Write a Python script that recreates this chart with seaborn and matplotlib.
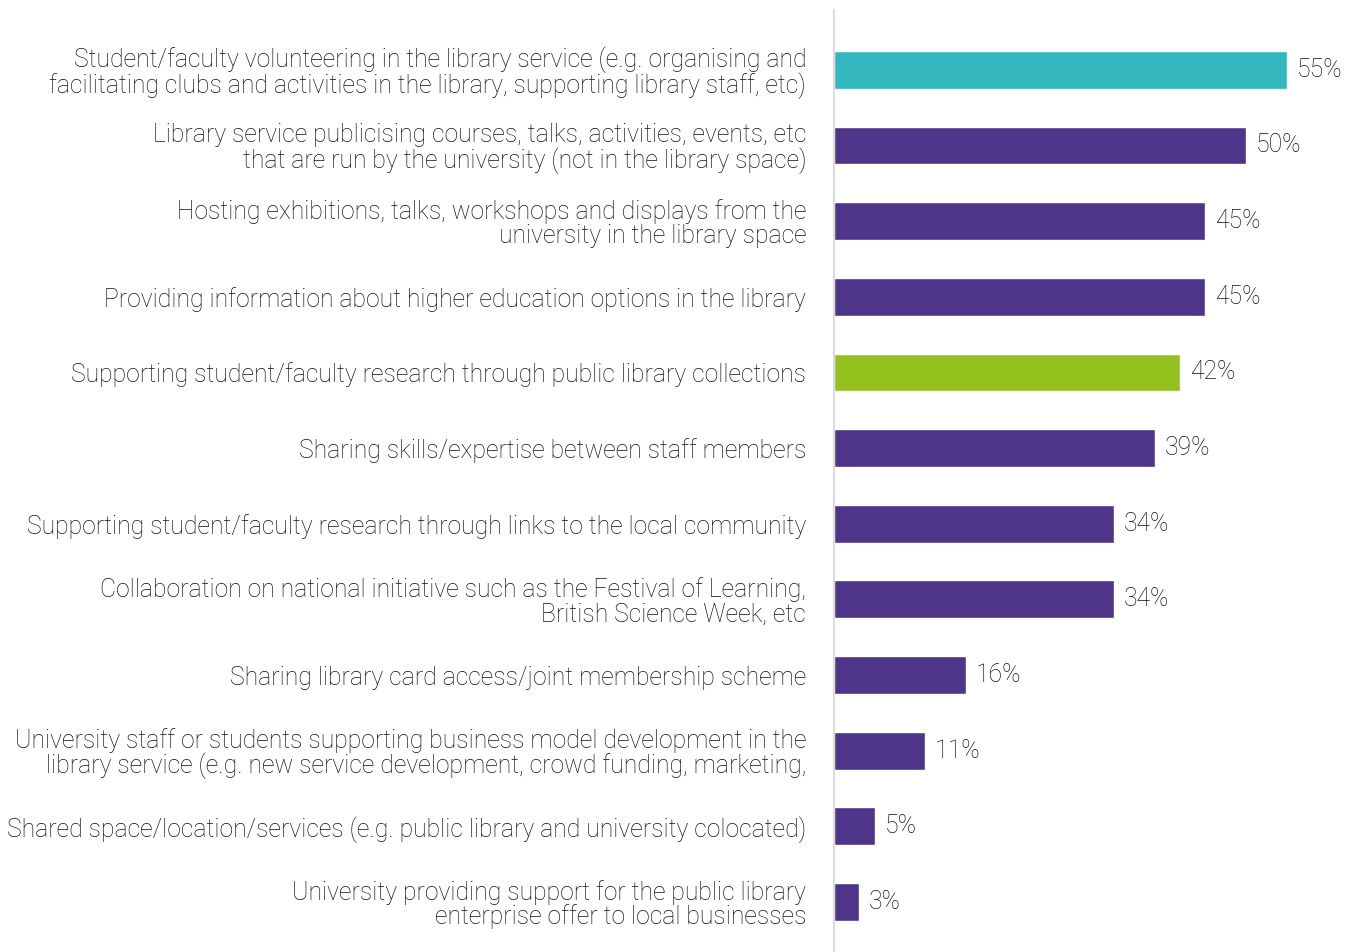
import matplotlib
matplotlib.use("Agg")
import matplotlib.pyplot as plt
import seaborn as sns
import pandas as pd

# Survey results: forms of partnership between public libraries and universities
categories = [
    "Student/faculty volunteering in the library service (e.g. organising and\nfacilitating clubs and activities in the library, supporting library staff, etc)",
    "Library service publicising courses, talks, activities, events, etc\nthat are run by the university (not in the library space)",
    "Hosting exhibitions, talks, workshops and displays from the\nuniversity in the library space",
    "Providing information about higher education options in the library",
    "Supporting student/faculty research through public library collections",
    "Sharing skills/expertise between staff members",
    "Supporting student/faculty research through links to the local community",
    "Collaboration on national initiative such as the Festival of Learning,\nBritish Science Week, etc",
    "Sharing library card access/joint membership scheme",
    "University staff or students supporting business model development in the\nlibrary service (e.g. new service development, crowd funding, marketing,",
    "Shared space/location/services (e.g. public library and university colocated)",
    "University providing support for the public library\nenterprise offer to local businesses",
]
values = [55, 50, 45, 45, 42, 39, 34, 34, 16, 11, 5, 3]

PURPLE = "#4F3589"
TEAL = "#33B6BD"
GREEN = "#95C11F"
bar_colors = [TEAL, PURPLE, PURPLE, PURPLE, GREEN, PURPLE,
              PURPLE, PURPLE, PURPLE, PURPLE, PURPLE, PURPLE]

df = pd.DataFrame({"category": categories, "value": values})

sns.set_theme(style="white")
plt.rcParams["font.family"] = ["Roboto", "DejaVu Sans"]

fig = plt.figure(figsize=(13.59, 9.52), dpi=100)
ax = fig.add_axes([834 / 1359, 0.0, 511 / 1359, 1 - 10 / 952])

sns.barplot(data=df, y="category", x="value", hue="category",
            palette=bar_colors, legend=False, width=0.5,
            saturation=1, ax=ax)

ax.set_xlim(0, 62)
ax.set_ylim(11.66, -0.79)
ax.set_xlabel("")
ax.set_ylabel("")
ax.set_xticks([])

for side in ("top", "right", "bottom"):
    ax.spines[side].set_visible(False)
ax.spines["left"].set_color("#DCDCDC")
ax.spines["left"].set_linewidth(1.5)

ax.tick_params(axis="y", length=0, pad=20)
for lbl in ax.get_yticklabels():
    lbl.set_fontsize(17.8)
    lbl.set_fontweight("light")
    lbl.set_color("#111111")
    lbl.set_horizontalalignment("right")
    lbl.set_multialignment("right")
    lbl.set_linespacing(1.0)

for container, v in zip(ax.containers, values):
    ax.bar_label(container, labels=[f"{v}%"], padding=7,
                 fontsize=17.8, fontweight="light", color="#111111")

fig.savefig("out.png", dpi=100)
